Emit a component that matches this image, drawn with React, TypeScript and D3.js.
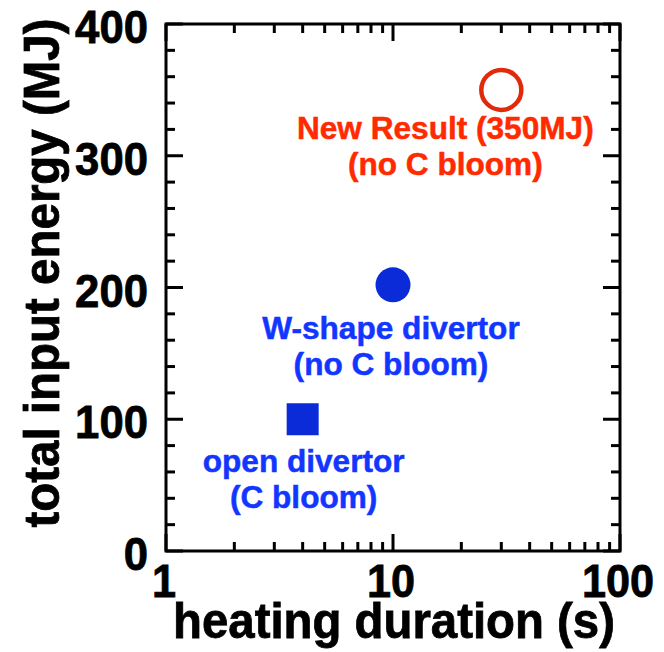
import React from "react";
import * as d3 from "d3";

// Heating duration (s) vs total input energy (MJ) for each divertor configuration
const cases = ["open divertor", "W-shape divertor", "New Result"];
const durations = [4, 10, 30];
const energies = [100, 202, 350];
const markerKinds = ["square", "dot", "ring"];
const markerColors = ["#0b2bd8", "#0b2bd8", "#e02a0a"];

const labelLines = [
  ["open divertor", "(C bloom)"],
  ["W-shape divertor", "(no C bloom)"],
  ["New Result (350MJ)", "(no C bloom)"],
];
const labelColors = ["#1236ff", "#1236ff", "#ff2a00"];

const xTickValues = [1, 10, 100];
const yTickValues = [0, 100, 200, 300, 400];

const W = 664;
const H = 652;
const FONT = "'Liberation Sans', Arial, Helvetica, sans-serif";

// condensed heavy text: a horizontal squeeze plus a thin outline
function Squeezed(props: {
  x: number;
  y: number;
  size: number;
  sx: number;
  anchor: string;
  rotate?: number;
  children: React.ReactNode;
}) {
  const { x, y, size, sx, anchor, rotate = 0, children } = props;
  return (
    <g transform={`translate(${x},${y}) rotate(${rotate}) scale(${sx},1)`}>
      <text
        x={0}
        y={0}
        fontSize={size}
        textAnchor={anchor}
        fill="#000"
        stroke="#000"
        strokeWidth={0.8}
      >
        {children}
      </text>
    </g>
  );
}

export default function App() {
  const x = d3.scaleLog().domain([1, 100]).range([166, 620]);
  const y = d3.scaleLinear().domain([0, 400]).range([551, 24]);
  const [x0, x1] = x.range();
  const [y0, y1] = y.range();

  const yMinor = d3.range(0, 401, 20).filter((v) => v % 100 !== 0);
  const xMinor = [...d3.range(2, 10), ...d3.range(20, 100, 10)];

  const majorLen = 17;
  const minorLen = 9;

  // label anchor offsets relative to each mark
  const labelAnchors = [
    { dx: 1, dy: 53 },
    { dx: -2, dy: 54 },
    { dx: -56, dy: 49 },
  ];
  const lineGap = 36;

  return (
    <svg
      width={W}
      height={H}
      style={{ position: "absolute", left: 0, top: 0, background: "#fff" }}
      fontFamily={FONT}
      fontWeight="bold"
    >
      {/* frame */}
      <rect
        x={x0}
        y={y1}
        width={x1 - x0}
        height={y0 - y1}
        fill="none"
        stroke="#000"
        strokeWidth={3}
      />

      {/* y ticks, left and right, pointing inward */}
      {yTickValues.map((v) => (
        <g key={"ym" + v}>
          <line x1={x0} x2={x0 + majorLen} y1={y(v)} y2={y(v)} stroke="#000" strokeWidth={3} />
          <line x1={x1} x2={x1 - majorLen} y1={y(v)} y2={y(v)} stroke="#000" strokeWidth={3} />
        </g>
      ))}
      {yMinor.map((v) => (
        <g key={"yn" + v}>
          <line x1={x0} x2={x0 + minorLen} y1={y(v)} y2={y(v)} stroke="#000" strokeWidth={3} />
          <line x1={x1} x2={x1 - minorLen} y1={y(v)} y2={y(v)} stroke="#000" strokeWidth={3} />
        </g>
      ))}

      {/* x ticks, bottom and top, pointing inward */}
      {xTickValues.map((v) => (
        <g key={"xm" + v}>
          <line x1={x(v)} x2={x(v)} y1={y0} y2={y0 - majorLen} stroke="#000" strokeWidth={3} />
          <line x1={x(v)} x2={x(v)} y1={y1} y2={y1 + majorLen} stroke="#000" strokeWidth={3} />
        </g>
      ))}
      {xMinor.map((v) => (
        <g key={"xn" + v}>
          <line x1={x(v)} x2={x(v)} y1={y0} y2={y0 - minorLen} stroke="#000" strokeWidth={3} />
          <line x1={x(v)} x2={x(v)} y1={y1} y2={y1 + minorLen} stroke="#000" strokeWidth={3} />
        </g>
      ))}

      {/* tick labels */}
      {yTickValues.map((v) => (
        <Squeezed key={"yl" + v} x={148} y={y(v) + 19} size={46} sx={0.95} anchor="end">
          {v}
        </Squeezed>
      ))}
      {xTickValues.map((v) => (
        <Squeezed key={"xl" + v} x={x(v) - 2} y={597} size={46} sx={0.94} anchor="middle">
          {v}
        </Squeezed>
      ))}

      {/* axis titles */}
      <Squeezed x={394} y={638} size={50} sx={0.947} anchor="middle">
        heating duration (s)
      </Squeezed>
      <Squeezed x={59} y={273} size={50} sx={0.95} anchor="middle" rotate={-90}>
        total input energy (MJ)
      </Squeezed>

      {/* marks */}
      {cases.map((c, i) => {
        const cx = x(durations[i]);
        const cy = y(energies[i]);
        const col = markerColors[i];
        if (markerKinds[i] === "square") {
          return <rect key={c} x={cx - 16} y={cy - 16} width={32} height={32} fill={col} />;
        }
        if (markerKinds[i] === "dot") {
          return <circle key={c} cx={cx} cy={cy} r={17.5} fill={col} />;
        }
        return <circle key={c} cx={cx} cy={cy} r={20} fill="none" stroke={col} strokeWidth={4.5} />;
      })}

      {/* annotations */}
      {cases.map((c, i) => {
        const cx = x(durations[i]) + labelAnchors[i].dx;
        const cy = y(energies[i]) + labelAnchors[i].dy;
        return (
          <text
            key={"lab" + c}
            fontSize={31.6}
            textAnchor="middle"
            fill={labelColors[i]}
            stroke={labelColors[i]}
            strokeWidth={0.5}
          >
            {labelLines[i].map((ln, k) => (
              <tspan key={k} x={cx} y={cy + k * lineGap}>
                {ln}
              </tspan>
            ))}
          </text>
        );
      })}
    </svg>
  );
}
